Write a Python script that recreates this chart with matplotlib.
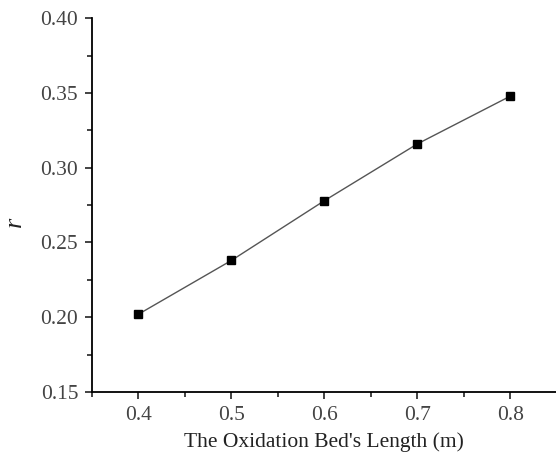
import matplotlib
matplotlib.use("Agg")
import matplotlib.pyplot as plt
from matplotlib.ticker import MultipleLocator

bed_length = [0.4, 0.5, 0.6, 0.7, 0.8]
r_values = [0.202, 0.238, 0.278, 0.316, 0.348]

plt.rcParams['font.family'] = 'Liberation Serif'
plt.rcParams['font.size'] = 15.5

fig = plt.figure(figsize=(5.56, 4.61), dpi=100)
ax = fig.add_axes([0.1655, 0.150, 0.836, 0.810])

ax.plot(bed_length, r_values, color='#555555', linewidth=1.0, zorder=1)
ax.plot(bed_length, r_values, linestyle='none', marker='s', markersize=6,
        color='black', zorder=2)

ax.set_xlim(0.35, 0.85)
ax.set_ylim(0.15, 0.40)
ax.xaxis.set_major_locator(MultipleLocator(0.1))
ax.xaxis.set_minor_locator(MultipleLocator(0.05))
ax.yaxis.set_major_locator(MultipleLocator(0.05))
ax.yaxis.set_minor_locator(MultipleLocator(0.025))
ax.xaxis.set_major_formatter(plt.FormatStrFormatter('%.1f'))
ax.yaxis.set_major_formatter(plt.FormatStrFormatter('%.2f'))

ax.spines['top'].set_visible(False)
ax.spines['right'].set_visible(False)
for side in ('left', 'bottom'):
    ax.spines[side].set_linewidth(1.3)
ax.tick_params(which='major', direction='out', length=5, width=1.2, pad=5,
               colors='#222222', labelcolor='#444444')
ax.tick_params(which='minor', direction='out', length=3.5, width=1.2,
               colors='#222222')

ax.set_xlabel("The Oxidation Bed's Length (m)", color='#222222')
ax.xaxis.set_label_coords(0.5, -0.108)
ax.set_ylabel("r", style='italic', rotation=90, color='#222222', fontsize=19)
ax.yaxis.set_label_coords(-0.142, 0.455)

fig.savefig('out.png', dpi=100)
